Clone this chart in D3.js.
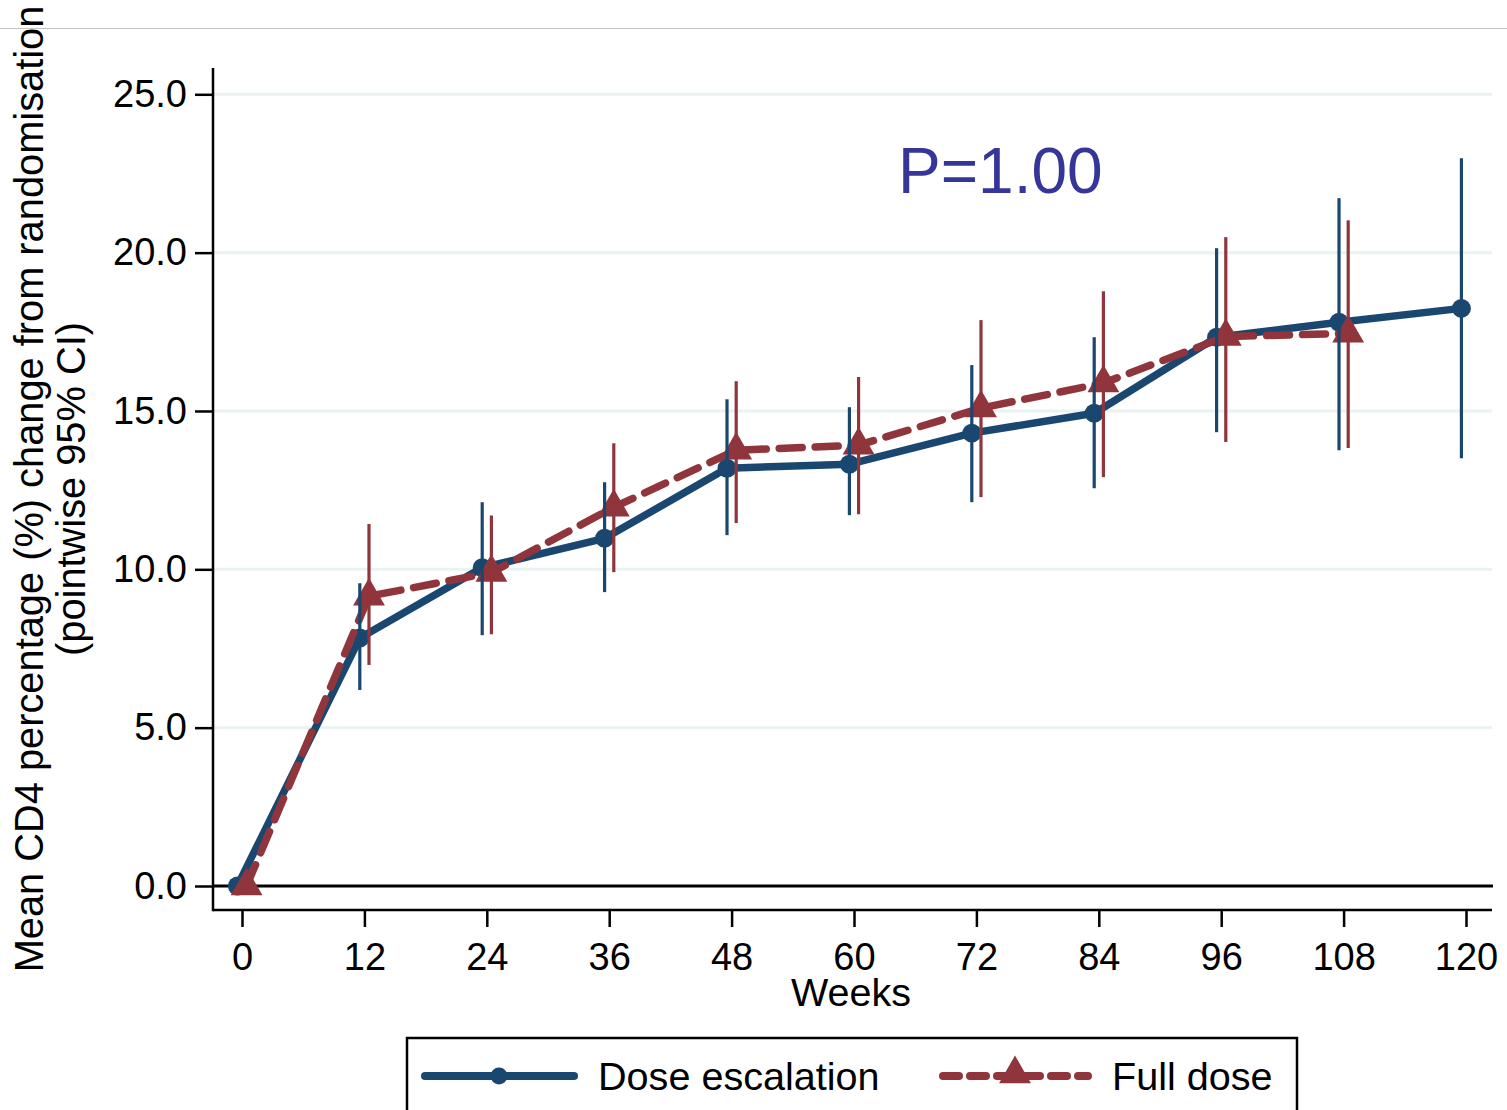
<!DOCTYPE html>
<html>
<head>
<meta charset="utf-8">
<script src="https://cdn.jsdelivr.net/npm/d3@7"></script>
<style>
  html, body { margin: 0; padding: 0; background: #fff; }
  svg { display: block; }
  text { font-family: "Liberation Sans", Arial, sans-serif; fill: #000; }
</style>
</head>
<body>
<svg id="chart" width="1507" height="1110"></svg>
<script>
// Weeks since randomisation
const weeks = [0, 12, 24, 36, 48, 60, 72, 84, 96, 108, 120];

// Dose escalation arm: mean change and pointwise 95% CI
const doseEscMean = [0, 7.83, 10.05, 10.98, 13.19, 13.32, 14.30, 14.93, 17.33, 17.80, 18.24];
const doseEscLo   = [0, 6.19, 7.92, 9.28, 11.08, 11.71, 12.12, 12.56, 14.33, 13.76, 13.51];
const doseEscHi   = [0, 9.56, 12.12, 12.75, 15.37, 15.12, 16.45, 17.33, 20.14, 21.72, 22.98];

// Full dose arm (to week 108)
const fullWeeks = [0, 12, 24, 36, 48, 60, 72, 84, 96, 108];
const fullMean  = [0, 9.15, 9.90, 11.96, 13.76, 13.92, 15.09, 15.88, 17.35, 17.45];
const fullLo    = [0, 6.98, 7.95, 9.91, 11.46, 11.74, 12.28, 12.91, 14.02, 13.83];
const fullHi    = [0, 11.43, 11.70, 13.98, 15.94, 16.07, 17.87, 18.78, 20.49, 21.02];

const yTicks = [0, 5, 10, 15, 20, 25];
const xTicks = weeks;
const seriesNames = ["Dose escalation", "Full dose"];
const pText = "P=1.00";

const NAVY = "#1a476f", MAROON = "#90353b", GRID = "#eaf2f3";

const svg = d3.select("#chart");

// thin rule across the top of the page
svg.append("line").attr("x1", 0).attr("x2", 1507).attr("y1", 28.5).attr("y2", 28.5)
  .attr("stroke", "#c4c4c4").attr("stroke-width", 1);

const x = d3.scaleLinear().domain([0, 120]).range([242, 1466]);
const y = d3.scaleLinear().domain([0, 25]).range([886, 94.3]);

// plot-region frame
const frameL = 213, frameR = 1492, frameT = 68, frameB = 910;

// horizontal grid lines
svg.append("g").selectAll("line").data(yTicks.filter(d => d > 0)).join("line")
  .attr("x1", frameL).attr("x2", frameR)
  .attr("y1", d => y(d)).attr("y2", d => y(d))
  .attr("stroke", GRID).attr("stroke-width", 3);

// reference line at zero
svg.append("line").attr("x1", frameL).attr("x2", frameR + 1)
  .attr("y1", y(0)).attr("y2", y(0))
  .attr("stroke", "#000").attr("stroke-width", 3);

// y axis
const yAxis = svg.append("g").attr("transform", `translate(${frameL},0)`)
  .call(d3.axisLeft(y).tickValues(yTicks).tickFormat(d3.format(".1f"))
    .tickSize(18).tickPadding(8));
yAxis.select(".domain").remove();
yAxis.selectAll(".tick line").attr("stroke", "#000").attr("stroke-width", 2.5);
yAxis.selectAll(".tick text").attr("font-size", 38)
  .attr("font-family", "Liberation Sans, Arial, sans-serif").attr("fill", "#000");
svg.append("line").attr("x1", frameL).attr("x2", frameL).attr("y1", frameT).attr("y2", frameB + 1.2)
  .attr("stroke", "#000").attr("stroke-width", 2.5);

// x axis
const xAxis = svg.append("g").attr("transform", `translate(0,${frameB})`)
  .call(d3.axisBottom(x).tickValues(xTicks).tickFormat(d3.format("d"))
    .tickSize(17).tickPadding(16));
xAxis.select(".domain").remove();
xAxis.selectAll(".tick line").attr("stroke", "#000").attr("stroke-width", 2.5);
xAxis.selectAll(".tick text").attr("font-size", 38)
  .attr("font-family", "Liberation Sans, Arial, sans-serif").attr("fill", "#000");
svg.append("line").attr("x1", frameL).attr("x2", frameR).attr("y1", frameB).attr("y2", frameB)
  .attr("stroke", "#000").attr("stroke-width", 2.5);

// axis titles
svg.append("text").attr("x", 851).attr("y", 1006)
  .attr("text-anchor", "middle").attr("font-size", 39.5).text("Weeks");
const yTitle = svg.append("g").attr("transform", "translate(0,489) rotate(-90)");
yTitle.append("text").attr("x", 0).attr("y", 43).attr("text-anchor", "middle")
  .attr("font-size", 39.8).text("Mean CD4 percentage (%) change from randomisation");
yTitle.append("text").attr("x", 0).attr("y", 85).attr("text-anchor", "middle")
  .attr("font-size", 39.8).text("(pointwise 95% CI)");

// side-by-side offset (weeks) so the two arms do not overlap
const OFF_ESC = -0.45, OFF_FULL = 0.45;

const esc = weeks.map((w, i) => ({ w: w + OFF_ESC, m: doseEscMean[i], lo: doseEscLo[i], hi: doseEscHi[i] }));
const full = fullWeeks.map((w, i) => ({ w: w + OFF_FULL, m: fullMean[i], lo: fullLo[i], hi: fullHi[i] }));

const line = d3.line().x(d => x(d.w)).y(d => y(d.m));

// dose escalation: solid line with circles
svg.append("path").datum(esc).attr("d", line).attr("fill", "none")
  .attr("stroke", NAVY).attr("stroke-width", 7.5).attr("stroke-linejoin", "round");
svg.append("g").selectAll("circle").data(esc).join("circle")
  .attr("cx", d => x(d.w)).attr("cy", d => y(d.m)).attr("r", 9.5).attr("fill", NAVY);

// full dose: dashed line with triangles
svg.append("path").datum(full).attr("d", line).attr("fill", "none")
  .attr("stroke", MAROON).attr("stroke-width", 7.5).attr("stroke-linecap", "round")
  .attr("stroke-dasharray", "23,13").attr("stroke-linejoin", "round");
const tri = d3.symbol().type(d3.symbolTriangle).size(440);
svg.append("g").selectAll("path").data(full).join("path")
  .attr("d", tri).attr("transform", d => `translate(${x(d.w)},${y(d.m)})`)
  .attr("fill", MAROON);

// pointwise 95% CI spikes
svg.append("g").selectAll("line").data(esc.filter(d => d.hi > d.lo)).join("line")
  .attr("x1", d => x(d.w)).attr("x2", d => x(d.w))
  .attr("y1", d => y(d.lo)).attr("y2", d => y(d.hi))
  .attr("stroke", NAVY).attr("stroke-width", 3.2);
svg.append("g").selectAll("line").data(full.filter(d => d.hi > d.lo)).join("line")
  .attr("x1", d => x(d.w)).attr("x2", d => x(d.w))
  .attr("y1", d => y(d.lo)).attr("y2", d => y(d.hi))
  .attr("stroke", MAROON).attr("stroke-width", 3.2);

// p-value annotation
svg.append("text").attr("x", 898).attr("y", 193)
  .attr("font-family", "Open Sans, sans-serif").attr("font-size", 64)
  .style("fill", "#35359a").text(pText);

// legend
const lg = svg.append("g");
lg.append("rect").attr("x", 407).attr("y", 1038).attr("width", 890).attr("height", 120)
  .attr("fill", "#fff").attr("stroke", "#000").attr("stroke-width", 2.5);
const ly = 1076;
lg.append("line").attr("x1", 425).attr("x2", 574).attr("y1", ly).attr("y2", ly)
  .attr("stroke", NAVY).attr("stroke-width", 8).attr("stroke-linecap", "round");
lg.append("circle").attr("cx", 499).attr("cy", ly).attr("r", 8.5).attr("fill", NAVY);
lg.append("text").attr("x", 598).attr("y", 1090).attr("font-size", 39.6).text(seriesNames[0]);
lg.append("line").attr("x1", 943).attr("x2", 1088).attr("y1", ly).attr("y2", ly)
  .attr("stroke", MAROON).attr("stroke-width", 8).attr("stroke-linecap", "round")
  .attr("stroke-dasharray", "16,11");
lg.append("path").attr("d", tri).attr("transform", `translate(1015,${ly - 2})`).attr("fill", MAROON);
lg.append("text").attr("x", 1112).attr("y", 1090).attr("font-size", 39.6).text(seriesNames[1]);
</script>
</body>
</html>
